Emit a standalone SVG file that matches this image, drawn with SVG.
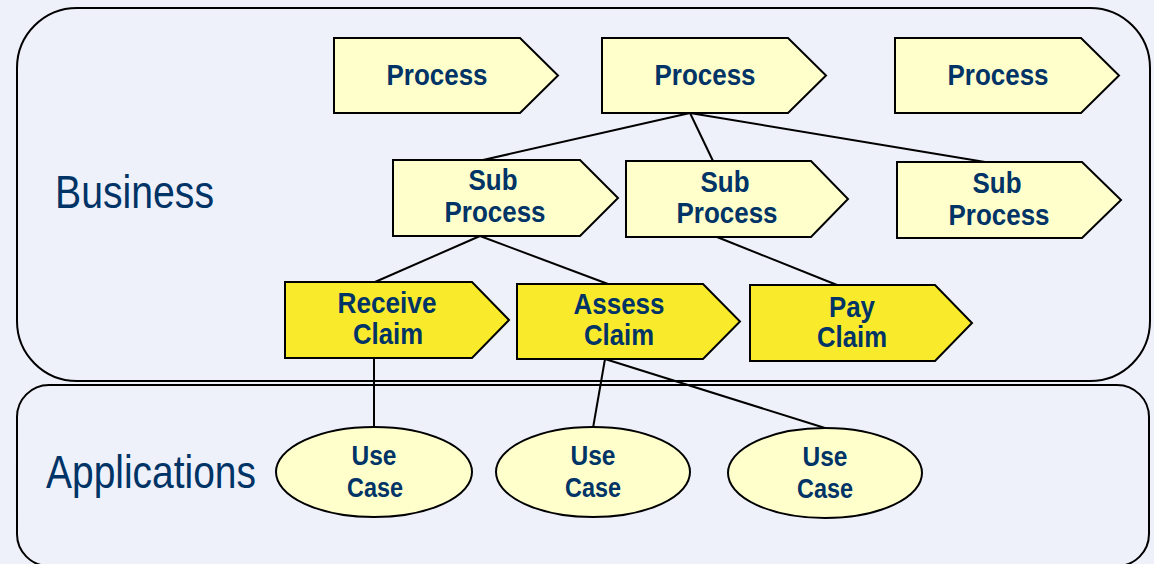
<svg xmlns="http://www.w3.org/2000/svg" width="1154" height="564" viewBox="0 0 1154 564">
<style>
.bg{fill:#EEF1F9}
.cont{fill:#EEF1F9;stroke:#000;stroke-width:2}
.proc{fill:#FFFFCC;stroke:#000;stroke-width:2}
.act{fill:#F9EB2C;stroke:#000;stroke-width:2}
.uc{fill:#FFFFCC;stroke:#000;stroke-width:2}
.conn line{stroke:#000;stroke-width:2}
.lbl{font-family:"Liberation Sans",Arial,sans-serif;font-weight:bold;font-size:30px;fill:#003366;text-anchor:middle}
.ucl{font-family:"Liberation Sans",Arial,sans-serif;font-weight:bold;font-size:27px;fill:#003366;text-anchor:middle}
.big{font-family:"Liberation Sans",Arial,sans-serif;font-size:46px;fill:#003366}
</style>
<rect class="bg" x="0" y="0" width="1154" height="564"/>
<g id="business">
<rect class="cont" x="17" y="8" width="1133" height="373" rx="60" ry="60"/>
<text class="big" x="55" y="208" textLength="159" lengthAdjust="spacingAndGlyphs">Business</text>
</g>
<g id="applications">
<rect class="cont" x="17" y="385" width="1132" height="181" rx="32" ry="32"/>
<text class="big" x="46" y="488" textLength="210" lengthAdjust="spacingAndGlyphs">Applications</text>
</g>
<g class="conn" id="connectors">
<line x1="690" y1="113" x2="483" y2="160"/>
<line x1="690" y1="113" x2="713" y2="161"/>
<line x1="690" y1="113" x2="985" y2="162"/>
<line x1="480" y1="236" x2="375" y2="282"/>
<line x1="480" y1="236" x2="608" y2="284"/>
<line x1="717" y1="237" x2="837" y2="285"/>
<line x1="374" y1="358" x2="374" y2="427"/>
<line x1="605" y1="359" x2="593" y2="428"/>
<line x1="605" y1="359" x2="825" y2="428"/>
</g>
<g id="process1">
<polygon class="proc" points="334,38 520,38 558,75.5 520,113 334,113"/>
<text class="lbl" x="437" y="85" textLength="101" lengthAdjust="spacingAndGlyphs">Process</text>
</g>
<g id="process2">
<polygon class="proc" points="602,38 788,38 826,75.5 788,113 602,113"/>
<text class="lbl" x="705" y="85" textLength="101" lengthAdjust="spacingAndGlyphs">Process</text>
</g>
<g id="process3">
<polygon class="proc" points="895,38 1081,38 1119,75.5 1081,113 895,113"/>
<text class="lbl" x="998" y="85" textLength="101" lengthAdjust="spacingAndGlyphs">Process</text>
</g>
<g id="subprocess1">
<polygon class="proc" points="393,160 580,160 618,198 580,236 393,236"/>
<text class="lbl" x="493" y="190" textLength="49" lengthAdjust="spacingAndGlyphs">Sub</text>
<text class="lbl" x="495" y="222" textLength="101" lengthAdjust="spacingAndGlyphs">Process</text>
</g>
<g id="subprocess2">
<polygon class="proc" points="626,161 811,161 848,199 811,237 626,237"/>
<text class="lbl" x="725" y="192" textLength="49" lengthAdjust="spacingAndGlyphs">Sub</text>
<text class="lbl" x="727" y="223" textLength="101" lengthAdjust="spacingAndGlyphs">Process</text>
</g>
<g id="subprocess3">
<polygon class="proc" points="897,162 1082,162 1121,200 1082,238 897,238"/>
<text class="lbl" x="997" y="193" textLength="49" lengthAdjust="spacingAndGlyphs">Sub</text>
<text class="lbl" x="999" y="225" textLength="101" lengthAdjust="spacingAndGlyphs">Process</text>
</g>
<g id="receiveclaim">
<polygon class="act" points="285,282 472,282 509,320 472,358 285,358"/>
<text class="lbl" x="387" y="313" textLength="99" lengthAdjust="spacingAndGlyphs">Receive</text>
<text class="lbl" x="388" y="344" textLength="70" lengthAdjust="spacingAndGlyphs">Claim</text>
</g>
<g id="assessclaim">
<polygon class="act" points="517,284 703,284 740,321.5 703,359 517,359"/>
<text class="lbl" x="619" y="314" textLength="91" lengthAdjust="spacingAndGlyphs">Assess</text>
<text class="lbl" x="619" y="345" textLength="70" lengthAdjust="spacingAndGlyphs">Claim</text>
</g>
<g id="payclaim">
<polygon class="act" points="750,285 935,285 972,323 935,361 750,361"/>
<text class="lbl" x="852" y="317" textLength="46" lengthAdjust="spacingAndGlyphs">Pay</text>
<text class="lbl" x="852" y="347" textLength="70" lengthAdjust="spacingAndGlyphs">Claim</text>
</g>
<g id="usecase1">
<ellipse class="uc" cx="374" cy="472" rx="98" ry="45"/>
<text class="ucl" x="374" y="465" textLength="45" lengthAdjust="spacingAndGlyphs">Use</text>
<text class="ucl" x="375" y="497" textLength="56" lengthAdjust="spacingAndGlyphs">Case</text>
</g>
<g id="usecase2">
<ellipse class="uc" cx="593" cy="472" rx="97" ry="45"/>
<text class="ucl" x="593" y="465" textLength="45" lengthAdjust="spacingAndGlyphs">Use</text>
<text class="ucl" x="593" y="497" textLength="56" lengthAdjust="spacingAndGlyphs">Case</text>
</g>
<g id="usecase3">
<ellipse class="uc" cx="825" cy="473" rx="97" ry="45"/>
<text class="ucl" x="825" y="466" textLength="45" lengthAdjust="spacingAndGlyphs">Use</text>
<text class="ucl" x="825" y="498" textLength="56" lengthAdjust="spacingAndGlyphs">Case</text>
</g>
</svg>
